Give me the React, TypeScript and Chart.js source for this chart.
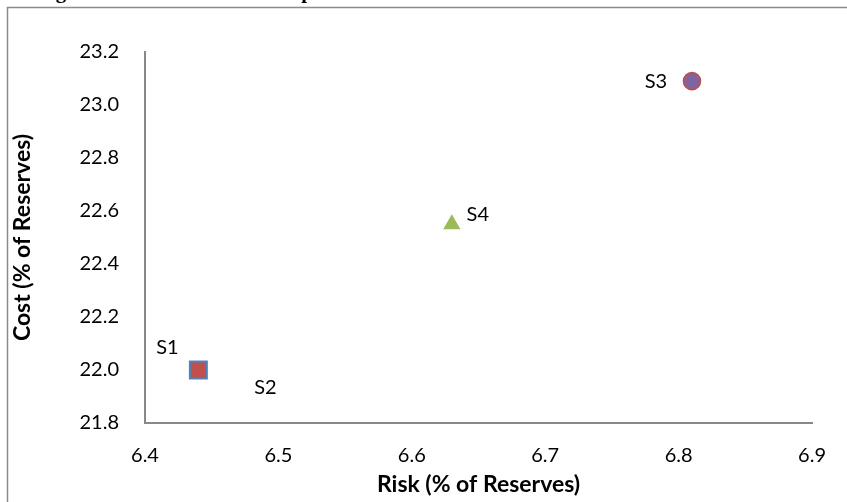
import { useEffect, useRef } from "react";
import { Chart, registerables } from "chart.js";

Chart.register(...registerables);

// Scenario data: risk (x) against cost (y), both as % of reserves
const seriesNames = ["S1", "S2", "S3", "S4"];
const riskValues = [6.44, 6.44, 6.81, 6.63];
const costValues = [22.0, 22.0, 23.09, 22.55];

const xTickValues = [6.4, 6.5, 6.6, 6.7, 6.8, 6.9];
const yTickValues = [21.8, 22.0, 22.2, 22.4, 22.6, 22.8, 23.0, 23.2];

const xAxisTitle = "Risk (% of Reserves)";
const yAxisTitle = "Cost (% of Reserves)";
const captionLead = ["Figure", "5:"];
const captionRest = ["Comparison", "of", "Internal", "Cost", "Scenarios", "to", "Cost"];

// Marker appearance per series
const markerStyles = [
  { pointStyle: "rect", radius: 13.4, fill: "#4F81BD", stroke: "#4F81BD", width: 0, order: 1 },
  { pointStyle: "rect", radius: 10.6, fill: "#C0504D", stroke: "#C0504D", width: 0, order: 0 },
  { pointStyle: "circle", radius: 8.5, fill: "#8064A2", stroke: "#C0504D", width: 1.6, order: 0 },
  { pointStyle: "triangle", radius: 10, fill: "#9BBB59", stroke: "#9BBB59", width: 0, order: 0 },
];
// Where each series name sits relative to its marker
const labelOffsets = [
  [-31, -22],
  [67, 18],
  [-36, 0],
  [26, -10],
];

const FONT = "Lato, 'Open Sans', sans-serif";
const AXIS_GREY = "#888888";

// lay words out evenly between two x positions
function drawJustified(ctx: CanvasRenderingContext2D, words: string[], x0: number, x1: number, y: number) {
  const widths = words.map((w) => ctx.measureText(w).width);
  const total = widths.reduce((a, b) => a + b, 0);
  const gap = words.length > 1 ? (x1 - x0 - total) / (words.length - 1) : 0;
  let x = x0;
  words.forEach((w, i) => {
    ctx.fillText(w, x, y);
    x += widths[i] + gap;
  });
}

const framePlugin = {
  id: "frame",
  beforeDraw(chart: Chart) {
    const ctx = chart.ctx;
    ctx.save();
    ctx.fillStyle = "#ffffff";
    ctx.fillRect(0, 0, chart.width, chart.height);
    // outer chart border (runs past the right and bottom edges)
    ctx.strokeStyle = "#8a8a8a";
    ctx.lineWidth = 1.5;
    ctx.strokeRect(7.5, 7.5, chart.width + 40, chart.height + 40);
    // caption line above the chart; only its lowest pixels fall on the canvas
    ctx.font = "bold 21px 'Liberation Serif', 'DejaVu Serif', serif";
    ctx.fillStyle = "#000000";
    ctx.textAlign = "left";
    ctx.textBaseline = "alphabetic";
    drawJustified(ctx, captionLead, 37, 230, -2);
    drawJustified(ctx, captionRest, 258, 805, -2);
    ctx.restore();
  },
};

const labelPlugin = {
  id: "seriesLabels",
  afterDatasetsDraw(chart: Chart) {
    const ctx = chart.ctx;
    ctx.save();
    ctx.font = `20px ${FONT}`;
    ctx.fillStyle = "#000000";
    ctx.textAlign = "center";
    ctx.textBaseline = "middle";
    chart.data.datasets.forEach((_ds, i) => {
      const pt = chart.getDatasetMeta(i).data[0];
      if (!pt) return;
      const [dx, dy] = labelOffsets[i];
      ctx.fillText(seriesNames[i], pt.x + dx, pt.y + dy);
    });
    ctx.restore();
  },
};

export default function App() {
  const canvasRef = useRef<HTMLCanvasElement | null>(null);

  useEffect(() => {
    const canvas = canvasRef.current;
    if (!canvas) return;

    const datasets = seriesNames.map((name, i) => {
      const m = markerStyles[i];
      return {
        label: name,
        data: [{ x: riskValues[i], y: costValues[i] }],
        pointStyle: m.pointStyle,
        pointRadius: m.radius,
        pointHoverRadius: m.radius,
        backgroundColor: m.fill,
        borderColor: m.stroke,
        borderWidth: m.width,
        order: m.order,
      };
    });

    const chart = new Chart(canvas, {
      type: "scatter",
      data: { datasets } as any,
      options: {
        responsive: false,
        animation: false,
        layout: { padding: { top: 52, right: 29, left: 0, bottom: 0 } },
        plugins: {
          legend: { display: false },
          tooltip: { enabled: false },
        },
        scales: {
          x: {
            type: "linear",
            min: xTickValues[0],
            max: xTickValues[xTickValues.length - 1],
            afterBuildTicks: (s: any) => {
              s.ticks = xTickValues.map((v) => ({ value: v }));
            },
            afterFit: (s: any) => {
              s.height = 79;
            },
            grid: { display: false, drawTicks: false },
            border: { display: true, color: AXIS_GREY, width: 2 },
            ticks: {
              padding: 21,
              color: "#000000",
              font: { family: FONT, size: 20 },
              callback: (v: any) => Number(v).toFixed(1),
            },
            title: {
              display: true,
              text: xAxisTitle,
              color: "#000000",
              font: { family: FONT, size: 23, weight: "bold" },
              padding: { top: 0, bottom: 4 },
            },
          },
          y: {
            type: "linear",
            min: yTickValues[0],
            max: yTickValues[yTickValues.length - 1],
            afterBuildTicks: (s: any) => {
              s.ticks = yTickValues.map((v) => ({ value: v }));
            },
            afterFit: (s: any) => {
              s.width = 145;
            },
            grid: { display: false, drawTicks: false },
            border: { display: true, color: AXIS_GREY, width: 2 },
            ticks: {
              padding: 26,
              color: "#000000",
              font: { family: FONT, size: 20 },
              callback: (v: any) => Number(v).toFixed(1),
            },
            title: {
              display: true,
              text: yAxisTitle,
              color: "#000000",
              font: { family: FONT, size: 23, weight: "bold" },
              padding: { top: 9, bottom: 0 },
            },
          },
        },
      },
      plugins: [framePlugin, labelPlugin],
    });

    return () => chart.destroy();
  }, []);

  return (
    <div style={{ position: "fixed", left: 0, top: 0, width: 847, height: 502, background: "#fff" }}>
      <canvas ref={canvasRef} width={847} height={502} style={{ display: "block" }} />
    </div>
  );
}
